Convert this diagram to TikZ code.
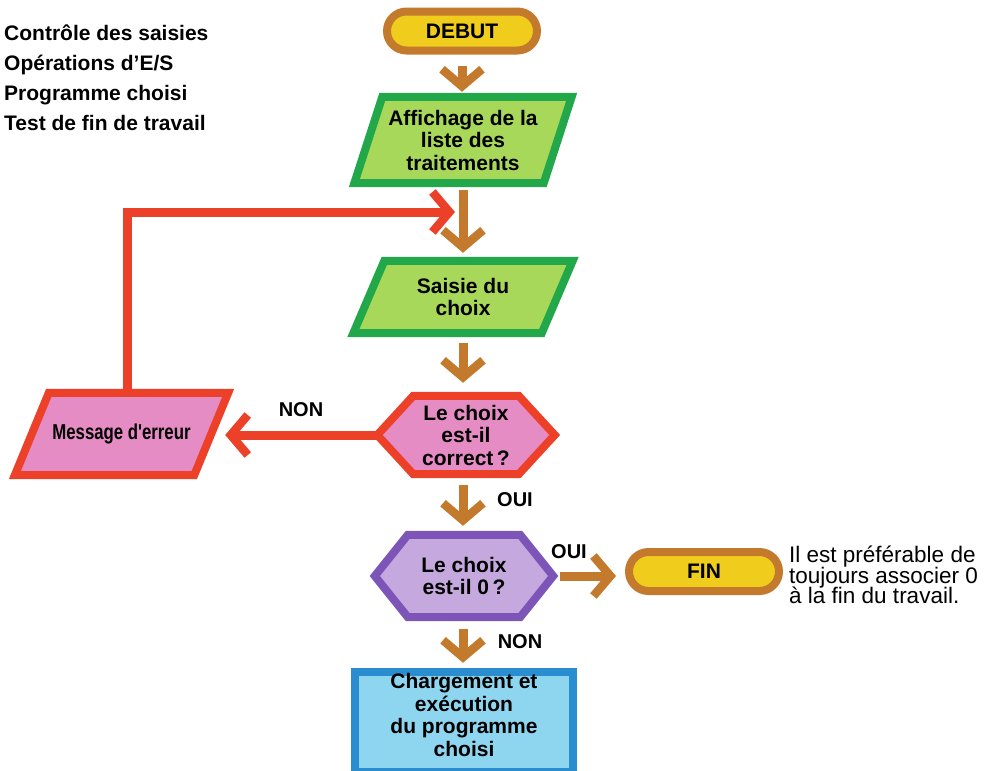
\documentclass[tikz,border=0pt]{standalone}
\usepackage{fontspec}
\setmainfont{Liberation Sans}
\newfontfamily\narrowfont{Liberation Sans}[FakeStretch=0.78]
\usetikzlibrary{arrows.meta,calc,backgrounds}

\definecolor{ochre}{HTML}{C47A2C}
\definecolor{sun}{HTML}{F0CC1C}
\definecolor{leaf}{HTML}{22A84A}
\definecolor{lime}{HTML}{A8D85A}
\definecolor{alarm}{HTML}{EC4128}
\definecolor{rose}{HTML}{E58CC4}
\definecolor{violet}{HTML}{7D55B8}
\definecolor{lilac}{HTML}{C5A9DE}
\definecolor{ocean}{HTML}{2A8DCF}
\definecolor{sky}{HTML}{8ED6F0}

\begin{document}
\begin{tikzpicture}[x=1pt,y=-1pt,
  txt/.style={font=\fontsize{21}{22.5}\selectfont\bfseries, align=center, inner sep=0pt},
  lbl/.style={font=\fontsize{20}{22}\selectfont\bfseries, inner sep=0pt},
  notetext/.style={font=\fontsize{22.5}{21}\selectfont, inner sep=0pt, anchor=base west},
  box/.style 2 args={minimum width=#1, minimum height=#2},
  pill/.style={txt, draw=ochre, fill=sun, line width=8pt, rounded corners=19.5pt,
    minimum width=150, minimum height=39},
  outline/.style={line width=8pt, line join=miter},
  greenshape/.style={outline, draw=leaf, fill=lime},
  redshape/.style={outline, draw=alarm, fill=rose},
  purpleshape/.style={outline, draw=violet, fill=lilac},
  blueshape/.style={outline, draw=ocean, fill=sky},
  flow/.style={line width=9pt, line join=miter,
    -{Straight Barb[length=17pt, width=40pt, line width=8.5pt]}},
  brownflow/.style={flow, draw=ochre},
  redflow/.style={flow, draw=alarm},
]
\useasboundingbox (0,0) rectangle (986,771);

% heading block, top left
\node[font=\fontsize{21}{30}\selectfont\bfseries, align=left, inner sep=0pt,
  anchor=north west] (legend) at (4,24.5)
  {Contrôle des saisies\\Opérations d'E/S\\Programme choisi\\Test de fin de travail};

% terminals
\node[pill] (debut) at (462,31) {DEBUT};
\node[pill] (fin) at (704,571.5) {FIN};

% text holders of the drawn shapes
\node[txt, box={217}{86}] (aff) at (463,140) {Affichage de la\\liste des\\traitements};
\node[txt, box={219}{72}] (sai) at (463,297) {Saisie du\\choix};
\node[txt, box={177}{78}] (q1) at (466,435) {Le choix\\est-il\\correct\,?};
\node[font=\narrowfont\fontsize{21.5}{22}\selectfont\bfseries, inner sep=0pt,
  box={213}{82}] (msg) at (121.5,434) {Message d'erreur};
\node[txt, box={178}{82}] (q2) at (464,576) {Le choix\\est-il 0\,?};
\node[txt, box={218}{86}] (run) at (464,715) {Chargement et\\exécution\\du programme\\choisi};

% note beside the end terminal
\node[notetext] (note) at (789,562) {Il est préférable de};
\node[notetext] (note2) at (789,583) {toujours associer 0};
\node[notetext] (note3) at (789,603.5) {à la fin du travail.};

% branch labels
\node[lbl] (non1) at (301,410) {NON};
\node[lbl] (oui1) at (515,500) {OUI};
\node[lbl] (oui2) at (569,552) {OUI};
\node[lbl] (non2) at (520,642) {NON};

% shapes behind the texts
\begin{scope}[on background layer]
  \draw[greenshape] ($(aff.north west)+(28,0)$) -- (aff.north east)
    -- ($(aff.south east)-(28,0)$) -- (aff.south west) -- cycle;
  \draw[greenshape] ($(sai.north west)+(31,0)$) -- (sai.north east)
    -- ($(sai.south east)-(31,0)$) -- (sai.south west) -- cycle;
  \draw[redshape] ($(msg.north west)+(34,0)$) -- (msg.north east)
    -- ($(msg.south east)-(34,0)$) -- (msg.south west) -- cycle;
  \draw[redshape] (q1.west) -- ($(q1.north west)+(36,0)$) -- ($(q1.north east)-(36,0)$)
    -- (q1.east) -- ($(q1.south east)-(36,0)$) -- ($(q1.south west)+(36,0)$) -- cycle;
  \draw[purpleshape] (q2.west) -- ($(q2.north west)+(33,0)$) -- ($(q2.north east)-(33,0)$)
    -- (q2.east) -- ($(q2.south east)-(33,0)$) -- ($(q2.south west)+(33,0)$) -- cycle;
  % the last box runs past the lower edge
  \draw[blueshape] (run.north west) rectangle ($(run.north east)+(0,100)$);
\end{scope}

% main flow
\coordinate (join) at (463,212);
\draw[brownflow, shorten <=11pt, shorten >=5pt] (debut.south) -- (debut.south |- aff.north);
\draw[brownflow, shorten <=7pt, shorten >=8pt] (aff.south) -- (sai.north);
\draw[brownflow, shorten <=10pt, shorten >=13pt] (sai.south) -- (sai.south |- q1.north);
\draw[brownflow, shorten <=11pt, shorten >=9pt] (q1.south -| sai.south) -- (sai.south |- q2.north);
\draw[brownflow, shorten <=12pt, shorten >=9pt] (q2.south -| sai.south) -- (sai.south |- run.north);
\draw[brownflow, shorten <=7pt, shorten >=9pt] (q2.east) -- (q2.east -| fin.west);

% error branch and its loop back
\draw[redflow, shorten >=-3pt] (q1.west) -- (q1.west -| msg.east);
\draw[redflow, shorten >=8pt] ($(msg.north)+(5.5,-4)$) |- (join);
\end{tikzpicture}
\end{document}
